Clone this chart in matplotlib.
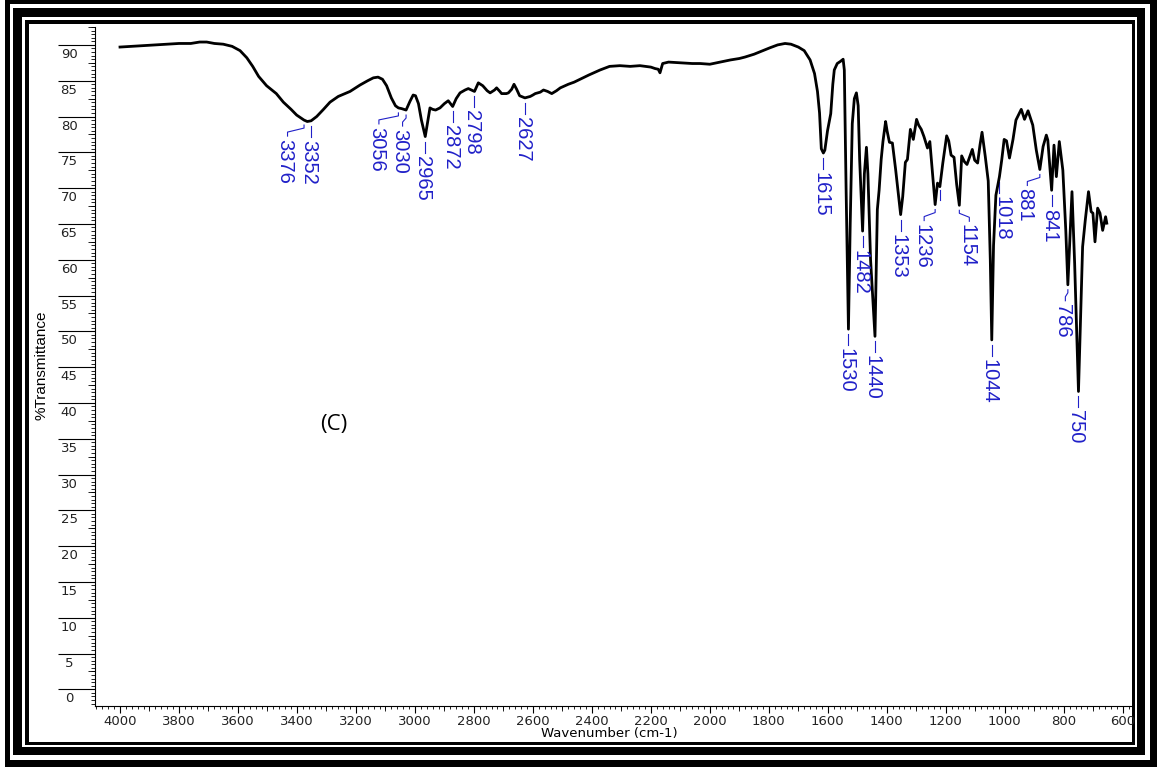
import matplotlib
matplotlib.use("Agg")
import matplotlib.pyplot as plt
from matplotlib.patches import Rectangle
import numpy as np

# ---- spectrum (wavenumber in cm-1, %T) ----
wavenumber = [
    4000, 3960, 3920, 3880, 3840, 3800, 3760, 3730, 3706, 3680, 3650, 3620,
    3593, 3570, 3550, 3530, 3503, 3470, 3446, 3420, 3401, 3376, 3365, 3352,
    3333, 3310, 3288, 3260, 3220, 3186, 3160, 3141, 3125, 3110, 3096, 3080,
    3066, 3056, 3045, 3030, 3017, 3006, 2998, 2988, 2978, 2965, 2957, 2949,
    2940, 2930, 2915, 2900, 2887, 2872, 2860, 2847, 2830, 2819, 2798, 2785,
    2770, 2755, 2745, 2730, 2723, 2712, 2706, 2690, 2683, 2672, 2664, 2655,
    2645, 2627, 2609, 2600, 2592, 2575, 2564, 2550, 2536, 2520, 2507, 2480,
    2460, 2440, 2410, 2372, 2340, 2305, 2270, 2237, 2200, 2186, 2175, 2169,
    2160, 2140, 2100, 2060, 2033, 2000, 1965, 1930, 1900, 1881, 1850, 1820,
    1796, 1770, 1745, 1725, 1700, 1680, 1660, 1645, 1635, 1628, 1622, 1615,
    1610, 1601, 1590, 1583, 1578, 1568, 1557, 1548, 1544, 1538, 1530, 1524,
    1517, 1510, 1503, 1497, 1492, 1482, 1476, 1469, 1464, 1455, 1440, 1432,
    1426, 1419, 1413, 1404, 1399, 1391, 1381, 1370, 1353, 1346, 1337, 1330,
    1320, 1310, 1299, 1292, 1283, 1274, 1262, 1254, 1246, 1236, 1228, 1220,
    1210, 1197, 1190, 1182, 1172, 1163, 1154, 1146, 1137, 1128, 1110, 1102,
    1092, 1084, 1077, 1066, 1056, 1049, 1044, 1038, 1030, 1018, 1010, 1002,
    994, 984, 972, 962, 944, 933, 921, 905, 893, 881, 870, 859,
    854, 841, 833, 825, 815, 803, 793, 786, 778, 772, 763, 750,
    736, 727, 716, 707, 701, 694, 685, 677, 668, 658, 654,
]
transmittance = [
    89.7, 89.8, 89.9, 90.0, 90.1, 90.2, 90.2, 90.4, 90.4, 90.2, 90.1, 89.8,
    89.2, 88.2, 87.0, 85.6, 84.3, 83.2, 82.0, 81.0, 80.2, 79.5, 79.3, 79.4,
    80.0, 81.0, 82.0, 82.8, 83.5, 84.4, 85.0, 85.4, 85.5, 85.2, 84.3, 82.6,
    81.5, 81.2, 81.1, 80.9, 82.1, 83.0, 82.9, 81.8, 79.5, 77.2, 79.2, 81.2,
    81.0, 80.9, 81.2, 81.8, 82.2, 81.4, 82.5, 83.3, 83.7, 83.9, 83.5, 84.7,
    84.3, 83.6, 83.3, 83.7, 84.0, 83.5, 83.2, 83.2, 83.3, 83.8, 84.5, 83.8,
    82.9, 82.6, 82.8, 83.0, 83.2, 83.4, 83.7, 83.5, 83.2, 83.6, 84.0, 84.5,
    84.8, 85.2, 85.8, 86.5, 87.0, 87.1, 87.0, 87.1, 86.9, 86.7, 86.6, 86.1,
    87.4, 87.6, 87.5, 87.4, 87.4, 87.3, 87.6, 87.9, 88.1, 88.3, 88.7, 89.2,
    89.6, 90.0, 90.2, 90.1, 89.7, 89.2, 87.9, 86.0, 83.5, 80.5, 75.5, 74.9,
    75.3, 78.0, 80.4, 84.5, 86.5, 87.4, 87.7, 88.0, 86.5, 70.0, 50.3, 65.0,
    79.0, 82.5, 83.3, 81.5, 74.0, 64.0, 72.0, 75.7, 72.0, 60.0, 49.3, 67.0,
    69.7, 74.0, 76.5, 79.3, 78.0, 76.4, 76.3, 72.6, 66.3, 68.8, 73.6, 74.0,
    78.2, 76.8, 79.6, 78.8, 78.2, 77.2, 75.6, 76.5, 72.6, 67.7, 70.7, 70.2,
    73.5, 77.3, 76.6, 74.6, 74.3, 70.5, 67.6, 74.5, 73.7, 73.3, 75.4, 73.9,
    73.5, 76.0, 77.8, 74.4, 71.0, 60.0, 48.8, 62.0, 69.0, 71.6, 74.0, 76.8,
    76.6, 74.2, 76.8, 79.5, 81.0, 79.6, 80.8, 78.8, 75.3, 72.6, 75.8, 77.4,
    76.7, 69.7, 76.0, 71.6, 76.5, 72.5, 64.1, 56.5, 64.1, 69.5, 59.5, 41.6,
    61.8, 65.5, 69.5, 66.7, 66.5, 62.5, 67.2, 66.5, 64.1, 66.0, 65.1,
]

# ---- peak annotations ----
peak_labels = [3376, 3352, 3056, 3030, 2965, 2872, 2798, 2627, 1615, 1530,
               1482, 1440, 1353, 1236, 1154, 1044, 1018, 881, 841, 786, 750]
unlabeled_marks = [1220]

# ---- axis ticks ----
x_ticks = list(range(4000, 599, -200))
y_ticks = list(range(0, 91, 5))

W, H = 1157, 767
BLUE = "#2020c8"

fig = plt.figure(figsize=(W / 100, H / 100), dpi=100)
fig.patch.set_facecolor("white")


def frame(x0, y0, x1, y1, color, z):
    fig.add_artist(Rectangle((x0 / W, 1 - y1 / H), (x1 - x0) / W, (y1 - y0) / H,
                             transform=fig.transFigure, facecolor=color,
                             edgecolor="none", zorder=z))


# triple black border around the plot
frame(5, 0, 1157, 767, "black", -6)
frame(10, 4, 1150, 760, "white", -5)
frame(13, 8, 1145, 755, "black", -4)
frame(22, 17, 1137, 747, "white", -3)
frame(25, 20, 1135, 745, "black", -2)
frame(29, 24, 1132, 742, "white", -1)

ax = fig.add_axes([95 / W, 61 / H, 1037 / W, 679 / H])
ax.set_facecolor("none")
ax.set_xlim(4084.8, 568.5)
ax.set_ylim(-2.33, 92.5)
for s in ("top", "right"):
    ax.spines[s].set_visible(False)
for s in ("left", "bottom"):
    ax.spines[s].set_linewidth(0.8)

# x axis
ax.set_xticks(x_ticks)
ax.set_xticklabels([str(v) for v in x_ticks], fontsize=9.5, family="DejaVu Sans",
                   color="#222222")
ax.set_xticks(np.arange(4080, 570, -20), minor=True)
ax.tick_params(axis="x", which="major", direction="out", length=5, width=0.8, pad=1.5)
ax.tick_params(axis="x", which="minor", direction="out", length=2.2, width=0.6)
mid_x = [v for v in range(4000, 570, -100) if v % 200 != 0]
ax.vlines(mid_x, -5 / 679, 0, transform=ax.get_xaxis_transform(),
          color="black", lw=0.6, clip_on=False)

# y axis: long major ticks with labels tucked underneath
ax.set_yticks(y_ticks)
ax.set_yticklabels([])
ax.set_yticks(np.arange(-2.0, 92.6, 0.5), minor=True)
ax.tick_params(axis="y", which="major", direction="out", length=26.6, width=0.8)
ax.tick_params(axis="y", which="minor", direction="out", length=2.8, width=0.6)
mid_y = [v + 2.5 for v in y_ticks]
ax.hlines(mid_y, -7 / 1037, 0, transform=ax.get_yaxis_transform(),
          color="black", lw=0.6, clip_on=False)
for v in y_ticks:
    ax.annotate(str(v), xy=(0, v), xycoords=ax.get_yaxis_transform(),
                xytext=(-26, -3), textcoords="offset pixels",
                ha="center", va="top", fontsize=9.5, family="DejaVu Sans",
                color="#222222")

ax.set_xlabel("Wavenumber (cm-1)", fontsize=9.5, family="DejaVu Sans")
ax.xaxis.set_label_coords((609 - 95) / 1037, (706 - 734) / 679)
ax.xaxis.label.set_va("center")
ax.set_ylabel("%Transmittance", fontsize=11,
              family=["Liberation Sans Narrow", "Liberation Sans"])
ax.yaxis.set_label_coords((42 - 95) / 1037, (706 - 365) / 679)
ax.yaxis.label.set_va("center")

# spectrum
ax.plot(wavenumber, transmittance, color="black", lw=2.0,
        solid_joinstyle="round", zorder=3)

# peak labels with leader lines
label_shift = {3376: -19, 3056: -22, 3030: -6, 1236: -13.5, 1154: 7.5,
               1018: 2.5, 881: -15, 786: -5}
GAP, LEAD, TXT = 5, 11, 14
inv = ax.transData.inverted()
label_font = dict(fontsize=14.5, family=["Liberation Sans Narrow", "Liberation Sans"],
                  color=BLUE)


def leader(wn, dx, length=LEAD, gap=GAP):
    t = transmittance[wavenumber.index(wn)]
    X, Y = ax.transData.transform((wn, t))
    top = Y - gap
    if abs(dx) > 4:
        pts = [(X, top), (X, top - 3), (X + dx + 2.5, top - 7),
               (X + dx + 2.5, top - length)]
    else:
        pts = [(X, top), (X, top - length)]
    d = inv.transform(pts)
    ax.plot(d[:, 0], d[:, 1], color=BLUE, lw=0.8, clip_on=False, zorder=2)
    return t


for wn in peak_labels:
    dx = label_shift.get(wn, -2.5)
    t = leader(wn, dx)
    ax.annotate(str(wn), xy=(wn, t), xytext=(dx, -(GAP + TXT)),
                textcoords="offset pixels", rotation=270,
                ha="center", va="top", **label_font)

for wn in unlabeled_marks:
    leader(wn, 0, length=10, gap=3)

# panel tag, placed in figure pixel coordinates
fig.text(334 / W, 1 - 425 / H, "(C)", fontsize=16, family="Open Sans",
         ha="center", va="center")

fig.savefig("out.png", dpi=100, facecolor="white")
